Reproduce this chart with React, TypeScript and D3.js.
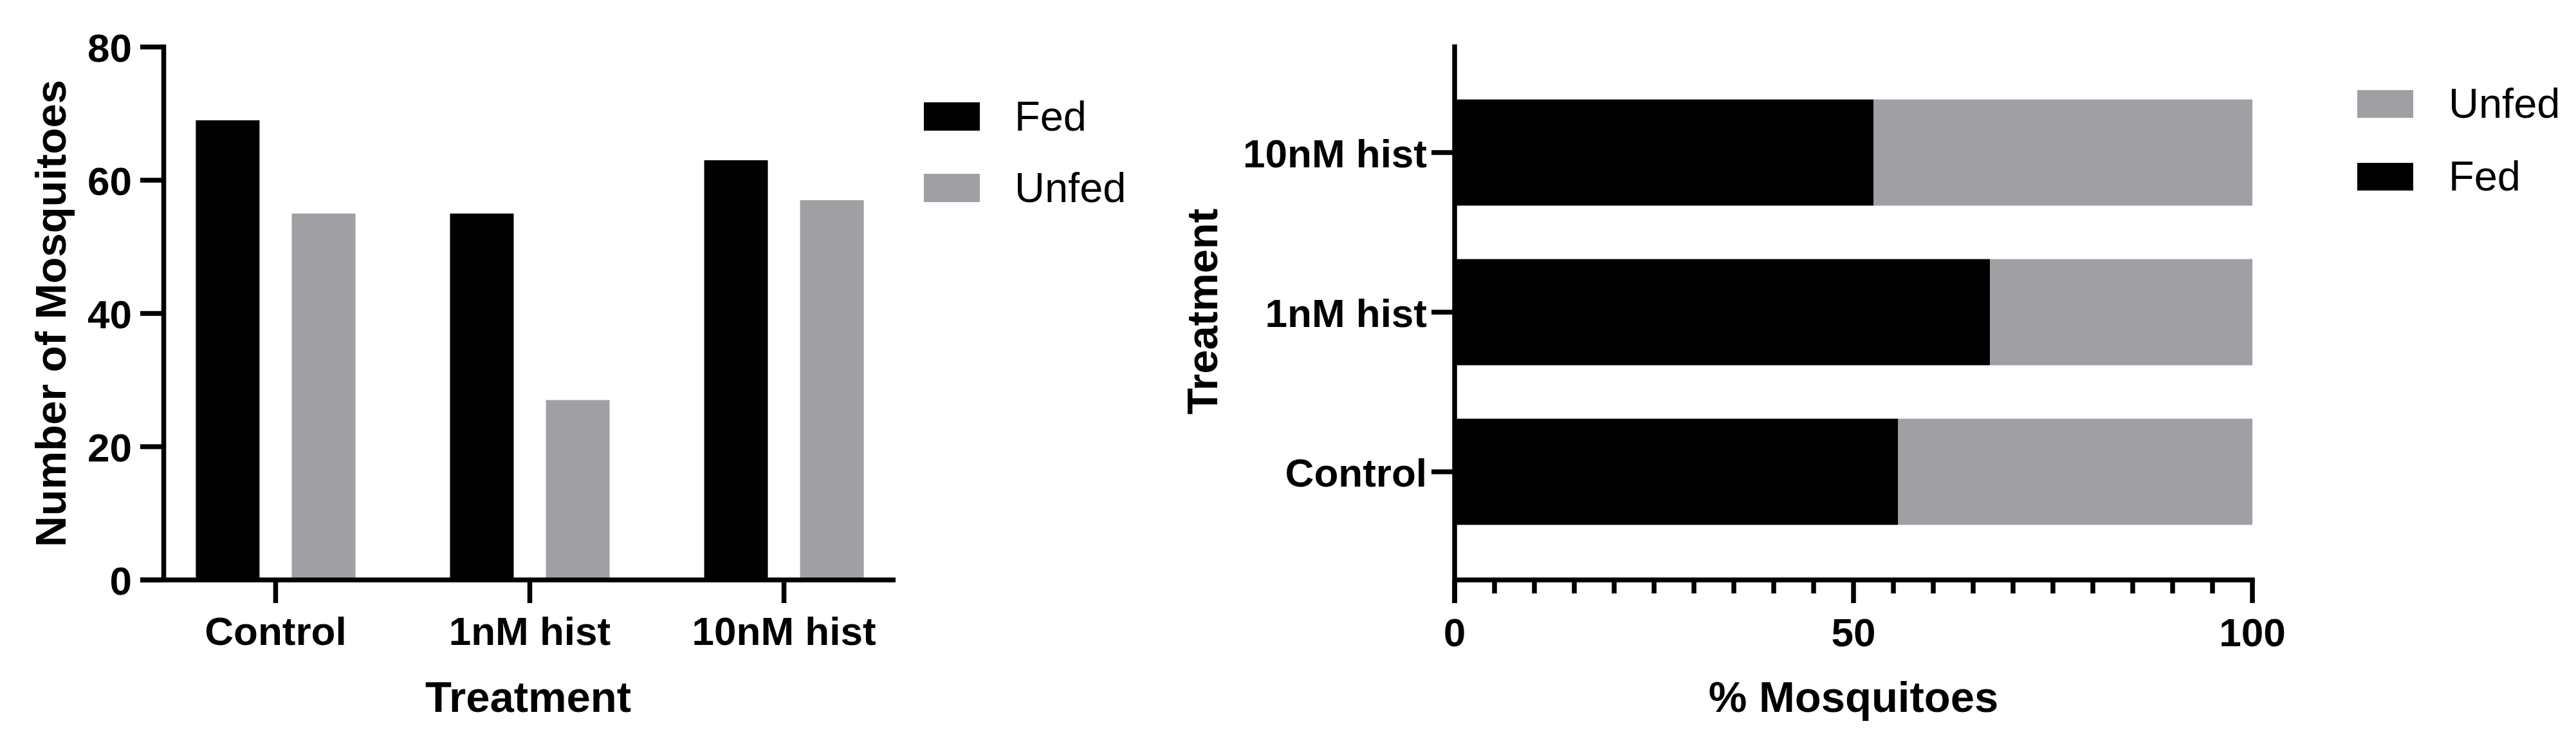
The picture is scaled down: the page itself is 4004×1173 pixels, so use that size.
import React from "react";
import * as d3 from "d3";

const categories = ["Control", "1nM hist", "10nM hist"];
const seriesKeys = ["Fed", "Unfed"];
const fedCounts = [69, 55, 63];
const unfedCounts = [55, 27, 57];
const fedPercent = [55.6, 67.1, 52.5];
const unfedPercent = [44.4, 32.9, 47.5];
const leftYTicks = [0, 20, 40, 60, 80];
const rightXMajor = [0, 50, 100];
const rightXMinor = [5, 10, 15, 20, 25, 30, 35, 40, 45, 55, 60, 65, 70, 75, 80, 85, 90, 95];

const W = 4004;
const H = 1173;
const FONT = "'Liberation Sans', Arial, Helvetica, sans-serif";
const BLACK = "#000000";
const GRAY = "#a0a0a4";
const SW = 7.5;

export default function App() {
  const colors: Record<string, string> = { Fed: BLACK, Unfed: GRAY };

  // ---------- left chart ----------
  const yL = d3.scaleLinear().domain([0, 80]).range([901, 73]);
  const xL = d3.scaleBand<string>().domain(categories).range([255, 1392]).paddingInner(0.372).paddingOuter(0.125);
  const xSub = d3.scaleBand<string>().domain(seriesKeys).range([0, xL.bandwidth()]).paddingInner(0.336);
  const countRows = categories.map((c, i) => ({ cat: c, Fed: fedCounts[i], Unfed: unfedCounts[i] }));

  // ---------- right chart ----------
  const xR = d3.scaleLinear().domain([0, 100]).range([2261, 3501]);
  const yR = d3.scaleBand<string>().domain(categories.slice().reverse()).range([69, 901]).paddingInner(0.335).paddingOuter(0.345);
  const pctRows = categories.map((c, i) => ({ cat: c, Fed: fedPercent[i], Unfed: unfedPercent[i] }));
  const stacked = d3.stack<any>().keys(seriesKeys)(pctRows);

  const tickFont = { fontFamily: FONT, fontWeight: 700, fontSize: 62, fill: BLACK } as const;
  const titleFont = { fontFamily: FONT, fontWeight: 700, fontSize: 67, fill: BLACK } as const;
  const legendFont = { fontFamily: FONT, fontWeight: 400, fontSize: 65, fill: BLACK } as const;

  const y0L = yL(0);
  const axisXL = 254.5;

  return (
    <svg width={W} height={H} style={{ position: "absolute", left: 0, top: 0, background: "#fff" }}>
      <rect x={0} y={0} width={W} height={H} fill="#fff" />

      {/* ===== Left grouped bar chart ===== */}
      <g>
        {countRows.map((r) =>
          seriesKeys.map((k) => {
            const x = (xL(r.cat) as number) + (xSub(k) as number);
            const v = (r as any)[k];
            return (
              <rect key={r.cat + k} x={x} y={yL(v)} width={xSub.bandwidth()} height={y0L - yL(v)} fill={colors[k]} />
            );
          })
        )}
        {/* y axis */}
        <line x1={axisXL} x2={axisXL} y1={yL(80) - SW / 2} y2={y0L} stroke={BLACK} strokeWidth={SW} />
        {leftYTicks.map((t) => (
          <g key={t}>
            <line x1={218} x2={axisXL} y1={yL(t)} y2={yL(t)} stroke={BLACK} strokeWidth={SW} />
            <text x={205} y={yL(t) + 23} textAnchor="end" {...tickFont}>{t}</text>
          </g>
        ))}
        {/* x axis */}
        <line x1={218} x2={1392} y1={y0L} y2={y0L} stroke={BLACK} strokeWidth={SW} />
        {categories.map((c) => {
          const cx = (xL(c) as number) + xL.bandwidth() / 2;
          return (
            <g key={c}>
              <line x1={cx} x2={cx} y1={y0L} y2={937} stroke={BLACK} strokeWidth={SW} />
              <text x={cx} y={1002} textAnchor="middle" {...tickFont}>{c}</text>
            </g>
          );
        })}
        <text x={821} y={1106} textAnchor="middle" {...titleFont}>Treatment</text>
        <text transform={`translate(102,487) rotate(-90)`} textAnchor="middle" {...titleFont}>Number of Mosquitoes</text>

        {/* legend */}
        {seriesKeys.map((k, i) => (
          <g key={k}>
            <rect x={1436} y={159 + i * 111} width={87} height={44} fill={colors[k]} />
            <text x={1577} y={203 + i * 111} {...legendFont}>{k}</text>
          </g>
        ))}
      </g>

      {/* ===== Right stacked percentage chart ===== */}
      <g>
        {stacked.map((s) =>
          s.map((d: any) => (
            <rect
              key={s.key + d.data.cat}
              x={xR(d[0])}
              y={yR(d.data.cat) as number}
              width={xR(d[1]) - xR(d[0])}
              height={yR.bandwidth()}
              fill={colors[s.key]}
            />
          ))
        )}
        {/* y axis */}
        <line x1={2261} x2={2261} y1={69} y2={937} stroke={BLACK} strokeWidth={SW} />
        {categories.map((c) => {
          const cy = (yR(c) as number) + yR.bandwidth() / 2;
          return (
            <g key={c}>
              <line x1={2225} x2={2261} y1={cy} y2={cy} stroke={BLACK} strokeWidth={SW} />
              <text x={2218} y={cy + 23} textAnchor="end" {...tickFont}>{c}</text>
            </g>
          );
        })}
        {/* x axis */}
        <line x1={2261} x2={xR(100) + SW / 2} y1={901} y2={901} stroke={BLACK} strokeWidth={SW} />
        {rightXMajor.map((t) => (
          <g key={t}>
            <line x1={xR(t)} x2={xR(t)} y1={901} y2={937} stroke={BLACK} strokeWidth={SW} />
            <text x={xR(t)} y={1004} textAnchor="middle" {...tickFont}>{t}</text>
          </g>
        ))}
        {rightXMinor.map((t) => (
          <line key={t} x1={xR(t)} x2={xR(t)} y1={901} y2={922} stroke={BLACK} strokeWidth={SW} />
        ))}
        <text x={2881} y={1106} textAnchor="middle" {...titleFont}>% Mosquitoes</text>
        <text transform={`translate(1892,484) rotate(-90)`} textAnchor="middle" {...titleFont}>Treatment</text>

        {/* legend */}
        {["Unfed", "Fed"].map((k, i) => (
          <g key={k}>
            <rect x={3664} y={140 + i * 113} width={87} height={43} fill={colors[k]} />
            <text x={3806} y={183 + i * 113} {...legendFont}>{k}</text>
          </g>
        ))}
      </g>
    </svg>
  );
}
